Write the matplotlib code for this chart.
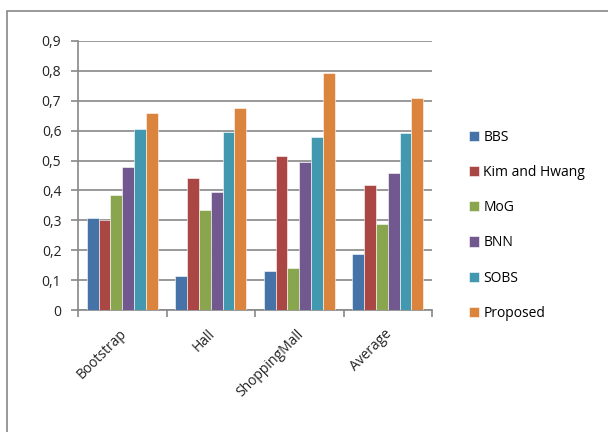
import numpy as np
import matplotlib.pyplot as plt
from matplotlib.patches import Rectangle
from matplotlib.transforms import ScaledTranslation

categories = ['Bootstrap', 'Hall', 'ShoppingMall', 'Average']
series = ['BBS', 'Kim and Hwang', 'MoG', 'BNN', 'SOBS', 'Proposed']
bbs = [0.309, 0.114, 0.131, 0.186]
kim = [0.300, 0.441, 0.514, 0.418]
mog = [0.385, 0.335, 0.140, 0.287]
bnn = [0.480, 0.394, 0.494, 0.457]
sobs = [0.604, 0.595, 0.579, 0.593]
proposed = [0.658, 0.675, 0.792, 0.708]
values = [bbs, kim, mog, bnn, sobs, proposed]
colors = ['#4572A7', '#AA4643', '#89A54E', '#71588F', '#4198AF', '#DB843D']
yticks = [0, 0.1, 0.2, 0.3, 0.4, 0.5, 0.6, 0.7, 0.8, 0.9]
ylabels = ['0', '0,1', '0,2', '0,3', '0,4', '0,5', '0,6', '0,7', '0,8', '0,9']

plt.rcParams['font.family'] = ['Open Sans', 'DejaVu Sans']

fig = plt.figure(figsize=(6.08, 4.32), dpi=100)
fig.patches.append(Rectangle((7 / 608, -0.05), 1.1, 1 - 11 / 432 + 0.05,
                             transform=fig.transFigure, fill=False,
                             edgecolor='#888888', linewidth=1.2))
ax = fig.add_axes([78 / 608, 1 - 310 / 432, (432 - 78) / 608, (310 - 41) / 432])

x = np.arange(len(categories))
w = 0.8 / len(series)
for i, (name, vals) in enumerate(zip(series, values)):
    ax.bar(x - 0.4 + w * (i + 0.5), vals, width=w, color=colors[i],
           edgecolor='white', linewidth=0.4, label=name, zorder=3)

ax.set_xlim(-0.5, len(categories) - 0.5)
ax.set_ylim(0, 0.9)
ax.set_yticks(yticks)
ax.set_yticklabels(ylabels, fontsize=10, color='#222222')
ax.yaxis.grid(True, color='#888888', linewidth=1.2, zorder=0)
ax.set_xticks(np.arange(len(categories) + 1) - 0.5)
ax.set_xticklabels([])
ax.set_xticks(x, minor=True)
ax.set_xticklabels(categories, minor=True, rotation=45, ha='right', va='center',
                   rotation_mode='anchor', fontsize=10, color='#222222')
ax.tick_params(axis='x', which='minor', length=0, pad=20)
ax.tick_params(axis='x', which='major', length=5, color='#888888', width=1.2)
ax.tick_params(axis='y', length=5, color='#888888', width=1.2, pad=7)
shift = ScaledTranslation(0.02, 0.06, fig.dpi_scale_trans)
for lab in ax.get_xticklabels(minor=True):
    lab.set_transform(lab.get_transform() + shift)
for s in ['top', 'right']:
    ax.spines[s].set_visible(False)
for s in ['left', 'bottom']:
    ax.spines[s].set_color('#888888')
    ax.spines[s].set_linewidth(1.2)

ax.legend(loc='upper left', bbox_to_anchor=(463 / 608, 1 - 124 / 432),
          bbox_transform=fig.transFigure, frameon=False, fontsize=10,
          handlelength=0.75, handleheight=0.75, handletextpad=0.3,
          labelspacing=1.46, borderaxespad=0)

plt.savefig('out.png', dpi=100)
